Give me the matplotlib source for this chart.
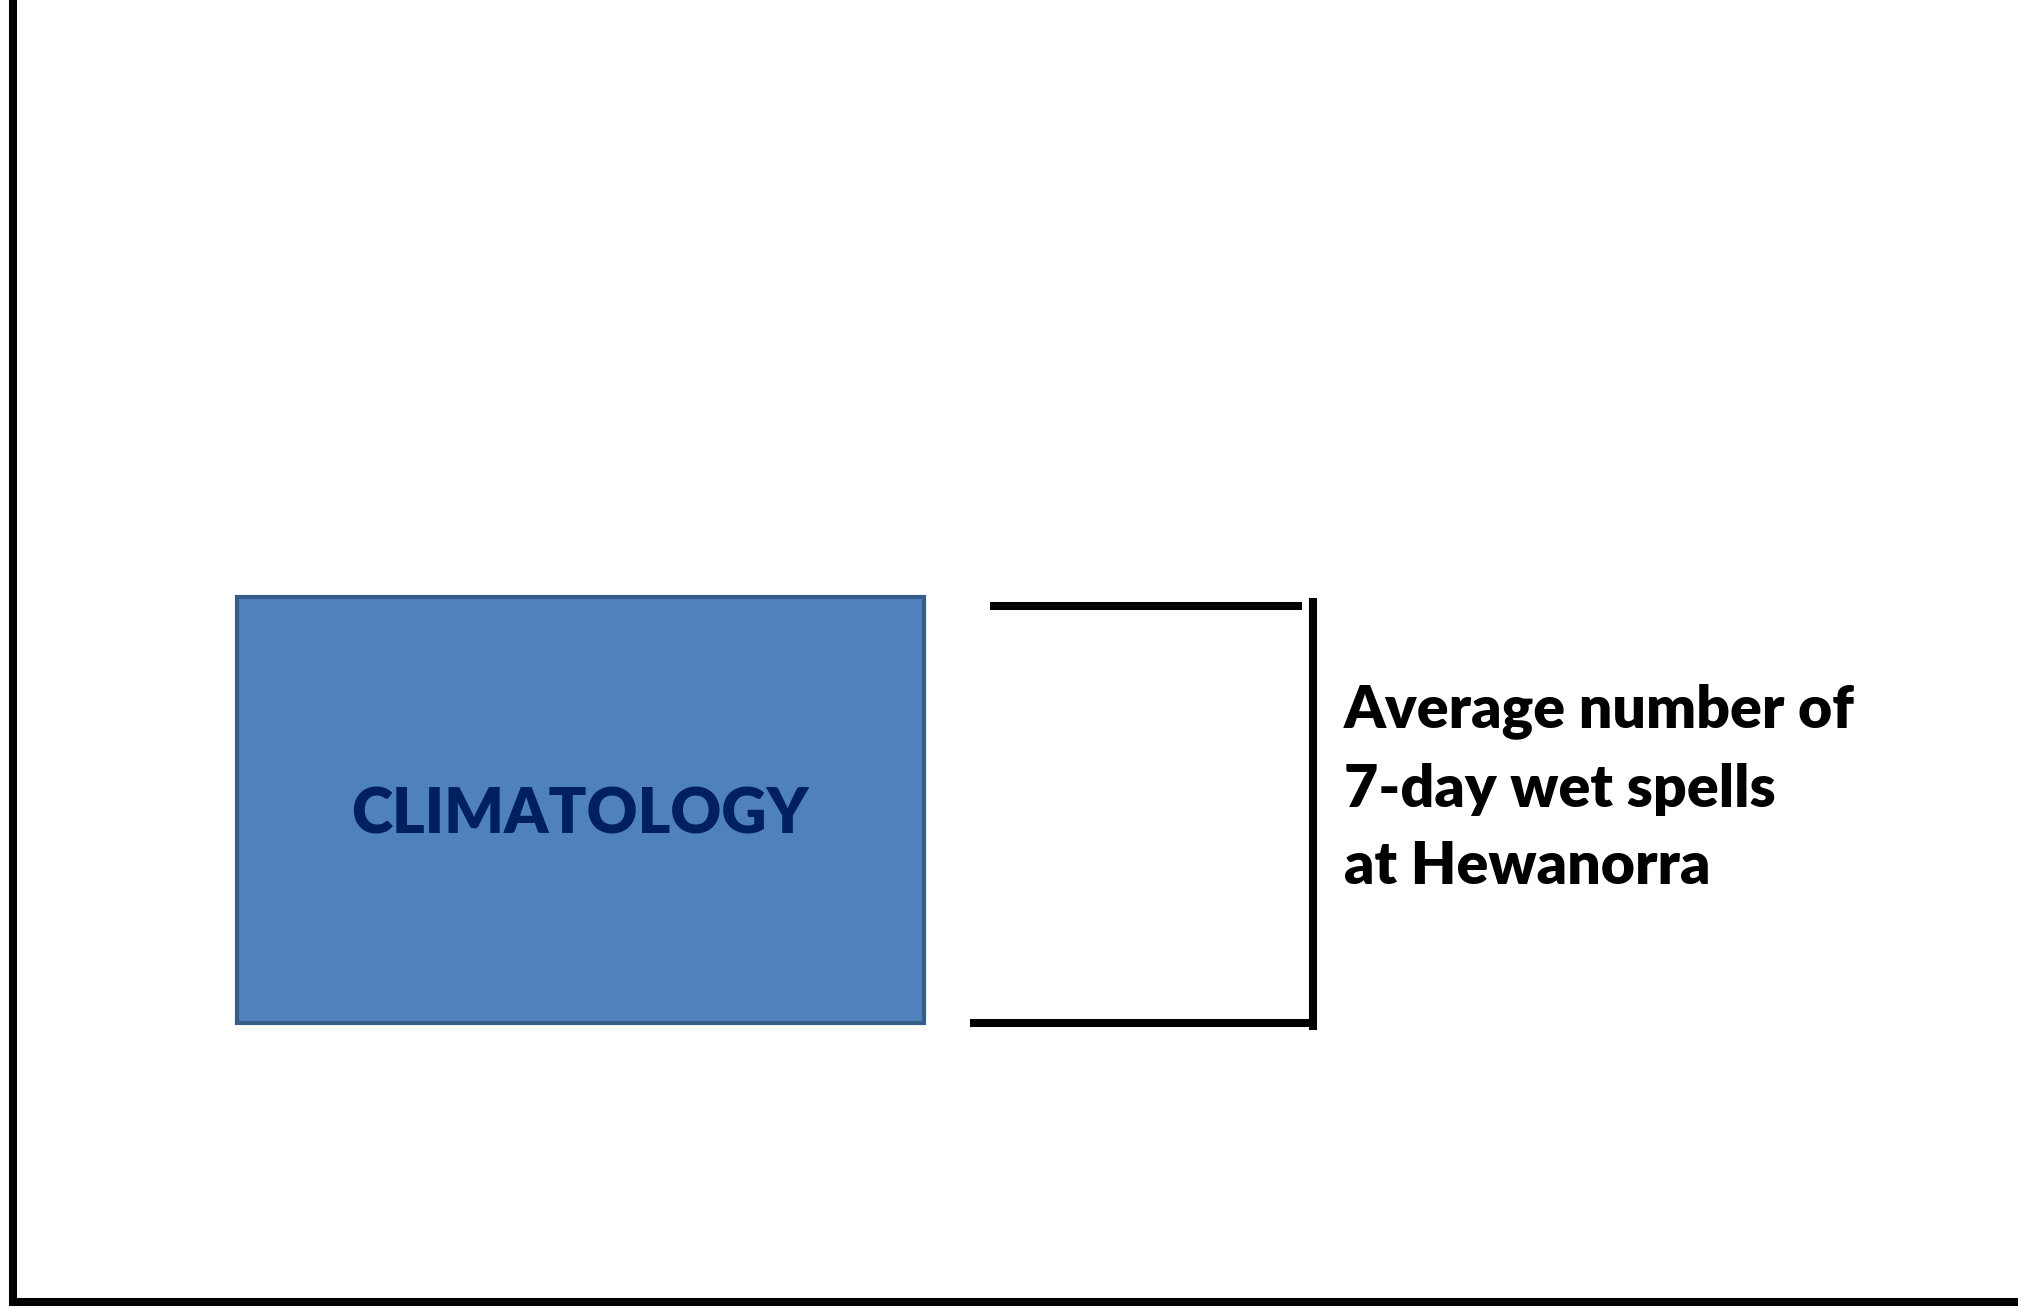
import matplotlib
matplotlib.use("Agg")
import matplotlib.pyplot as plt
from matplotlib.patches import Rectangle

# text content
box_label = "CLIMATOLOGY"
note_lines = ["Average number of", "7-day wet spells", "at Hewanorra"]

W, H = 2018, 1307
fig = plt.figure(figsize=(W / 100, H / 100), dpi=100)
ax = fig.add_axes([0, 0, 1, 1])
ax.set_xlim(0, W)
ax.set_ylim(H, 0)
ax.axis("off")

lw = 5.8  # ~8 px

# frame on the left and bottom
ax.plot([13, 13], [0, 1306], c="black", lw=lw, solid_capstyle="butt")
ax.plot([9, W], [1302, 1302], c="black", lw=lw, solid_capstyle="butt")

# climatology box
ax.add_patch(Rectangle((237, 597), 687, 426, fc="#4F81BD", ec="#385D8A", lw=3))
ax.text(580, 815, box_label, ha="center", va="center", color="#002060",
        fontsize=45, fontweight="heavy", family="Lato")

# bracket
ax.plot([990, 1302], [606, 606], c="black", lw=lw, solid_capstyle="butt")
ax.plot([970, 1313], [1023, 1023], c="black", lw=lw, solid_capstyle="butt")
ax.plot([1313, 1313], [598, 1030], c="black", lw=lw, solid_capstyle="butt")

for i, line in enumerate(note_lines):
    ax.text(1344, 711 + 78 * i, line, ha="left", va="center", color="black",
            fontsize=42.5, fontweight="heavy", family="Lato")

fig.savefig("out.png", dpi=100)
